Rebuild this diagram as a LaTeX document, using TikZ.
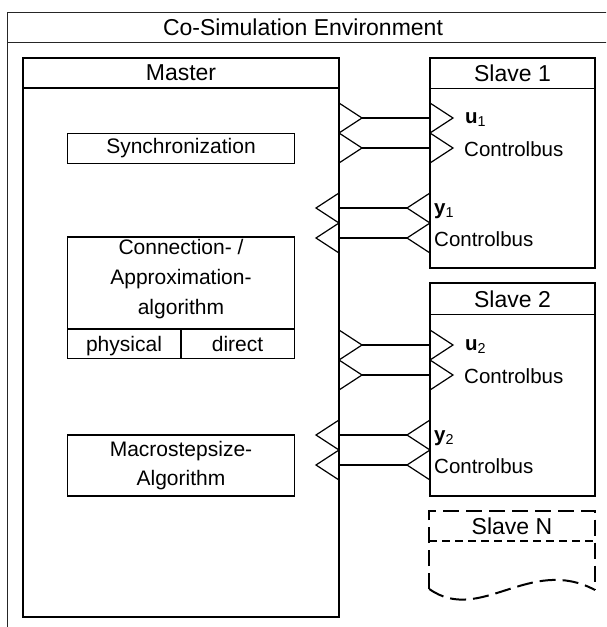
\documentclass[tikz,border=0pt]{standalone}
\usepackage{fontspec}
\setmainfont{Liberation Sans}
\begin{document}
\begin{tikzpicture}[x=1pt,y=-1pt,
  frame/.style={draw=black!85, line width=0.9pt},
  unit/.style={draw, line width=2pt},
  sub/.style={draw, line width=1.2pt},
  wire/.style={draw, line width=1.2pt},
  head/.style={font=\fontsize{23}{27}\selectfont, inner sep=0pt},
  txt/.style={font=\fontsize{21}{30}\selectfont, inner sep=0pt, align=center},
  cell/.style={txt, text height=19pt, text depth=4pt},
  lbl/.style={font=\fontsize{20.5}{24}\selectfont, inner sep=0pt, anchor=west},
  bigdash/.style={line width=2pt, dash pattern=on 16pt off 7pt},
  smalldash/.style={line width=1.1pt, dash pattern=on 8pt off 5pt}]
\clip (0,0) rectangle (606,627);

% environment frame (runs past the right and lower edge)
\draw[frame] (7,640) -- (7,12) -- (640,12);
\draw[frame] (7,42) -- (640,42);
\node[head] (env) at (303,27) {Co-Simulation Environment};

% master unit
\draw[unit] (22.7,57.7) rectangle (339,617);
\draw[line width=1.2pt] (22.7,88) -- (339,88);
\node[head] (master) at (181,73) {Master};

% master blocks
\draw[sub] (67.3,133.3) rectangle (294.3,163.3);
\node[txt] (sync) at (181,148) {Synchronization};

\draw[sub] (67.3,237) rectangle (294.3,358.3);
\draw[sub] (67.3,329) -- (294.3,329);
\draw[sub] (181,329) -- (181,358.3);
\node[txt] (conn) at (181,279) {Connection- /\\Approximation-\\algorithm};
\node[cell] (phys) at (124,343.5) {physical};
\node[cell] (dir) at (237.5,343.5) {direct};

\draw[sub] (67.3,435) rectangle (294.3,496);
\node[txt, font=\fontsize{21}{28.5}\selectfont] (macro) at (181,465.5) {Macrostepsize-\\Algorithm};

% slave units
\draw[unit] (430,58) rectangle (595,268.3);
\draw[line width=1.2pt] (430,88.3) -- (595,88.3);
\node[head] (s1) at (512.5,73) {Slave 1};

\draw[unit] (430,283.3) rectangle (595,496);
\draw[line width=1.2pt] (430,314.3) -- (595,314.3);
\node[head] (s2) at (512.5,299) {Slave 2};

% slave N, open-ended
\draw[bigdash] (429.3,589) -- (429.3,510.7) -- (595,510.7) -- (595,590);
\draw[smalldash] (429.3,541) -- (595,541);
\draw[bigdash] (429.3,589) .. controls (480,625) and (530,555) .. (595,590);
\node[head] (sN) at (512,526) {Slave N};

% port coordinates
\foreach \k/\yy in {a/118, b/148, c/345, d/375} {
  \coordinate (mo\k) at (362,\yy);   % master output tip
  \coordinate (si\k) at (430,\yy);   % slave input edge
  \draw[wire] (339,\yy-15) -- (mo\k) -- (339,\yy+15);
  \draw[wire] (430,\yy-15) -- (453,\yy) -- (430,\yy+15);
  \draw[wire] (mo\k) -- (si\k);
}
\foreach \k/\yy in {e/208, f/238, g/435, h/465} {
  \coordinate (so\k) at (407,\yy);   % slave output tip
  \coordinate (mi\k) at (339,\yy);   % master input edge
  \draw[wire] (430,\yy-15) -- (so\k) -- (430,\yy+15);
  \draw[wire] (339,\yy-15) -- (316,\yy) -- (339,\yy+15);
  \draw[wire] (so\k) -- (mi\k);
}

% port labels
\node[lbl] (u1) at (465,120) {\textbf{u}\textsubscript{1}};
\node[lbl] (cb1) at (464,149) {Controlbus};
\node[lbl] (y1) at (434,211) {\textbf{y}\textsubscript{1}};
\node[lbl] (cb2) at (434,239) {Controlbus};
\node[lbl] (u2) at (465,347) {\textbf{u}\textsubscript{2}};
\node[lbl] (cb3) at (464,376) {Controlbus};
\node[lbl] (y2) at (434,438) {\textbf{y}\textsubscript{2}};
\node[lbl] (cb4) at (434,466) {Controlbus};
\end{tikzpicture}
\end{document}
